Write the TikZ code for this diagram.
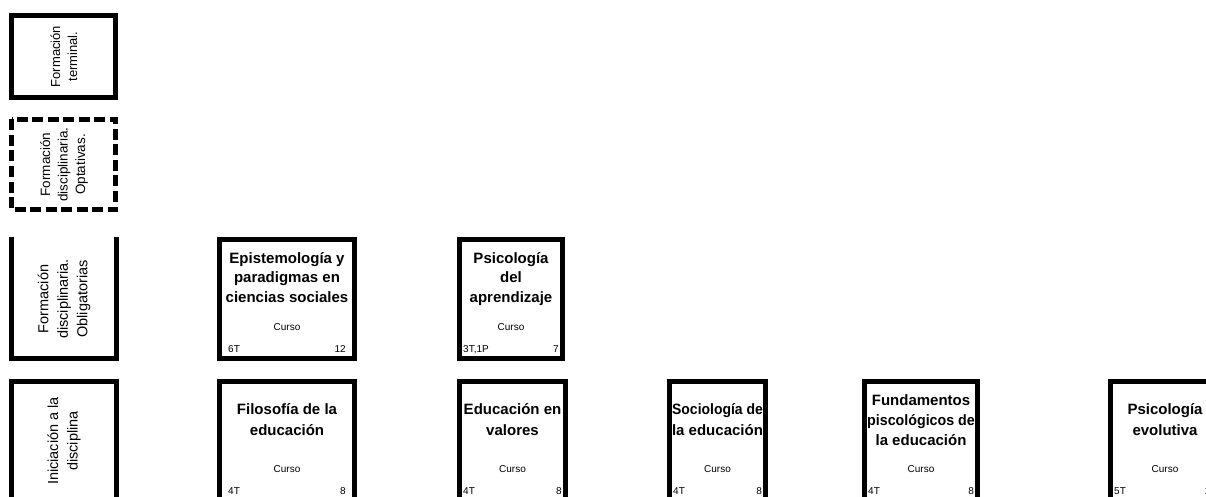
\documentclass[tikz,border=0pt]{standalone}
\usepackage{fontspec}
\setmainfont{Liberation Sans}
\begin{document}
\begin{tikzpicture}[x=1pt,y=-1pt,
  frame/.style={line width=5pt},
  band/.style={rotate=90, align=center, inner sep=0pt},
  title/.style={anchor=base, inner sep=0pt,
    font=\fontsize{15}{18}\selectfont\bfseries},
  kind/.style={anchor=base, inner sep=0pt, font=\fontsize{10}{12}\selectfont},
  hrs/.style={anchor=base west, inner sep=0pt, font=\fontsize{10}{12}\selectfont},
  cred/.style={anchor=base east, inner sep=0pt, font=\fontsize{10}{12}\selectfont}]
\useasboundingbox (0,0) rectangle (1206,497);
\clip (0,0) rectangle (1206,497);

% ---- row labels (left column) ----
\node[band, font=\fontsize{13}{17}\selectfont] (lterm) at (64,56.5)
  {Formación\\terminal.};
\draw[frame] (11.5,15.5) rectangle (115.5,97.5);

\node[band, font=\fontsize{13.5}{17.5}\selectfont] (lopt) at (64,164.5)
  {Formación\\disciplinaria.\\Optativas.};
\draw[frame, dash pattern=on 11pt off 4.5pt] (11.5,119.5) rectangle (115.5,209.5);

\node[band, font=\fontsize{14.5}{19.5}\selectfont] (lobl) at (64,299)
  {Formación\\disciplinaria.\\Obligatorias};
\draw[frame] (11.5,237) -- (11.5,358.5) -- (116,358.5) -- (116,237);

\node[band, font=\fontsize{14.5}{19.5}\selectfont] (lini) at (64,441)
  {Iniciación a la\\disciplina};
\draw[frame] (11.5,381.5) rectangle (116,520);

% ---- course box: frame, type, hours and credits ----
% #1 name, #2 left, #3 right, #4 top, #5 hours, #6 credits, #7 text padding
\newcommand\coursebox[7]{%
  \pgfmathsetmacro\cxl{#2+5+#7}%
  \pgfmathsetmacro\cxr{#3-5-#7}%
  \pgfmathsetmacro\cxm{(#2+#3)/2}%
  \pgfmathsetmacro\cyk{#4+93}%
  \pgfmathsetmacro\cyh{#4+115}%
  \node[kind] (#1-kind) at (\cxm,\cyk) {Curso};
  \node[hrs] (#1-hrs) at (\cxl,\cyh) {#5};
  \node[cred] (#1-cred) at (\cxr,\cyh) {#6};
  \draw[frame] (#2+2.5,#4+2.5) rectangle (#3-2.5,#4+121.5);
}

% ---- Formación disciplinaria. Obligatorias ----
\node[title] (epi1) at (287,263) {Epistemología y};
\node[title] (epi2) at (287,282.5) {paradigmas en};
\node[title] (epi3) at (287,302) {ciencias sociales};
\coursebox{epi}{217}{357}{237}{6T}{12}{6}

\node[title] (apr1) at (511,263) {Psicología};
\node[title] (apr2) at (511,282.5) {del};
\node[title] (apr3) at (511,302) {aprendizaje};
\coursebox{apr}{457}{565}{237}{3T,1P}{7}{1}

% ---- Iniciación a la disciplina ----
\node[title] (fil1) at (287,414) {Filosofía de la};
\node[title] (fil2) at (287,435) {educación};
\coursebox{fil}{217}{357}{379}{4T}{8}{6}

\node[title] (val1) at (512.5,414) {Educación en};
\node[title] (val2) at (512.5,435) {valores};
\coursebox{val}{457}{568}{379}{4T}{8}{1}

\node[title] (soc1) at (717.5,414) {\scalebox{0.93}[1]{Sociología de}};
\node[title] (soc2) at (717.5,435) {la educación};
\coursebox{soc}{667}{768}{379}{4T}{8}{1}

\node[title] (fun1) at (921,405) {Fundamentos};
\node[title] (fun2) at (921,425) {\scalebox{0.95}[1]{piscológicos de}};
\node[title] (fun3) at (921,445) {la educación};
\coursebox{fun}{862}{980}{379}{4T}{8}{1}

\node[title] (evo1) at (1165,414) {Psicología};
\node[title] (evo2) at (1165,435) {evolutiva};
\coursebox{evo}{1108}{1222}{379}{5T}{10}{1}
\end{tikzpicture}
\end{document}
